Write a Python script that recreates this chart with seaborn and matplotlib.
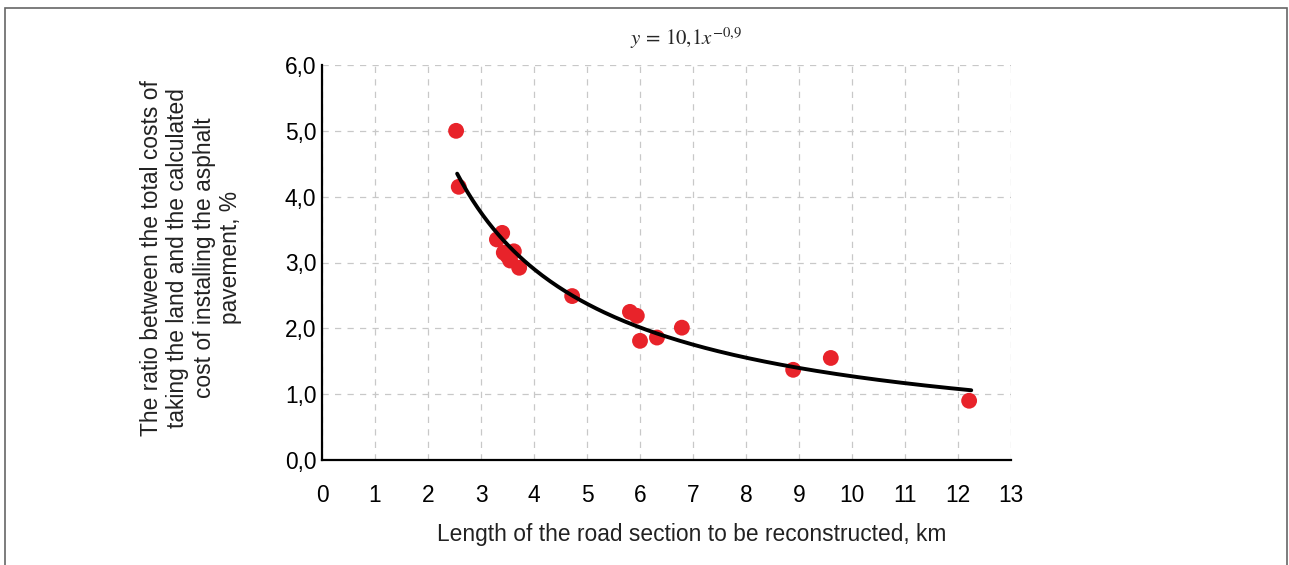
import numpy as np
import pandas as pd
import matplotlib
matplotlib.use('Agg')
import matplotlib.pyplot as plt
import seaborn as sns
from matplotlib.patches import Rectangle

# road section length, km
length_km = [2.53, 2.58, 3.30, 3.40, 3.43, 3.50, 3.55, 3.62, 3.72,
             4.72, 5.81, 5.94, 6.00, 6.32, 6.79, 8.89, 9.60, 12.21]
# cost ratio, %
ratio_pct = [5.00, 4.15, 3.35, 3.45, 3.15, 3.10, 3.03, 3.17, 2.92,
             2.49, 2.25, 2.19, 1.81, 1.86, 2.01, 1.37, 1.55, 0.90]

# power fit stated on the chart: y = 10,1 x^-0,9
fit_a = 10.1
fit_b = -0.9
fit_from, fit_to = 2.55, 12.25

x_ticks = list(range(0, 14))
y_ticks = [0, 1, 2, 3, 4, 5, 6]

df = pd.DataFrame({'length': length_km, 'ratio': ratio_pct})
fit_x = np.linspace(fit_from, fit_to, 200)
fit_df = pd.DataFrame({'length': fit_x, 'ratio': fit_a * fit_x ** fit_b})

sns.set_style('white')
plt.rcParams['font.family'] = ['Liberation Sans', 'DejaVu Sans']
plt.rcParams['mathtext.fontset'] = 'stix'

fig = plt.figure(figsize=(12.89, 5.65), dpi=100)
ax = fig.add_axes([322 / 1289, 1 - 460 / 565, (1011 - 322) / 1289, (460 - 65) / 565])

sns.scatterplot(data=df, x='length', y='ratio', ax=ax, color='#e8232a',
                s=130, edgecolor='none', zorder=3)
sns.lineplot(data=fit_df, x='length', y='ratio', ax=ax, color='black',
             linewidth=2.8, zorder=4)

ax.set_xlim(0, 13)
ax.set_ylim(0, 6)
ax.set_xticks(x_ticks)
ax.set_yticks(y_ticks)
ax.set_yticklabels([f'{v:.1f}'.replace('.', ',') for v in y_ticks])
ax.tick_params(axis='both', labelsize=16.4, colors='black')
ax.tick_params(axis='y', length=4, width=1.3, pad=0)
ax.tick_params(axis='x', length=0, pad=17)
ax.grid(True, color='#c8c8c8', linestyle=(0, (5, 5)), linewidth=0.9)
for side in ['top', 'right']:
    ax.spines[side].set_visible(False)
for side in ['left', 'bottom']:
    ax.spines[side].set_color('black')
    ax.spines[side].set_linewidth(1.6)
ax.set_xlabel('')
ax.set_ylabel('')

fig.text(686 / 1289, 1 - 38 / 565, r'$y\,=\,10{,}1x^{-0{,}9}$', ha='center',
         va='center', fontsize=15)
fig.text(692 / 1289, 1 - 535 / 565,
         'Length of the road section to be reconstructed, km',
         ha='center', va='center', fontsize=16.4, color='#222222')
fig.text(191 / 1289, 1 - 258 / 565,
         'The ratio between the total costs of\ntaking the land and the calculated\n'
         'cost of installing the asphalt\npavement, %',
         ha='center', va='center', rotation=90, fontsize=16.4, linespacing=1.18,
         color='#222222')

fig.patches.append(Rectangle((5 / 1289, -0.05), 1282 / 1289, 1.05 - 8 / 565,
                             transform=fig.transFigure, fill=False,
                             edgecolor='#666666', linewidth=1.2))

fig.savefig('out.png', dpi=100)
